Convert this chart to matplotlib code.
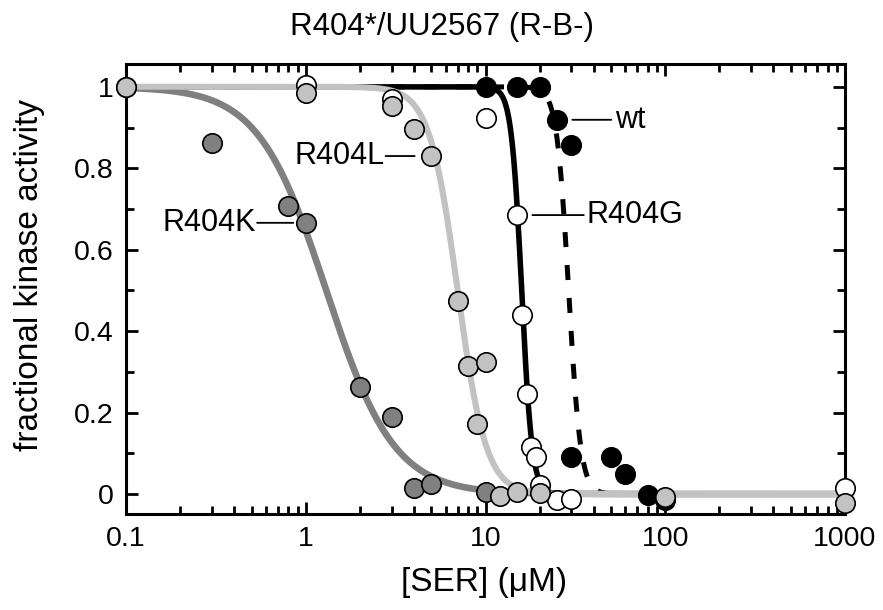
import numpy as np
import matplotlib
matplotlib.use("Agg")
import matplotlib.pyplot as plt
from matplotlib.ticker import FixedLocator, FixedFormatter, LogLocator, NullFormatter

plt.rcParams['font.family'] = ['Liberation Sans', 'DejaVu Sans']

# ---- data: [SER] (uM) vs fractional kinase activity ----
k_ser = [0.1, 0.3, 0.8, 1.0, 2.0, 3.0, 4.0, 5.0, 10.0]
k_act = [1.0, 0.862, 0.708, 0.666, 0.263, 0.189, 0.015, 0.025, 0.005]

l_ser = [0.1, 1.0, 3.0, 4.0, 5.0, 7.0, 8.0, 9.0, 10.0, 12.0, 15.0, 20.0, 100.0, 1000.0]
l_act = [1.0, 0.985, 0.953, 0.897, 0.830, 0.474, 0.314, 0.172, 0.324, -0.005, 0.005, 0.002, -0.007, -0.022]

g_ser = [1.0, 3.0, 10.0, 15.0, 16.0, 17.0, 18.0, 19.0, 20.0, 25.0, 30.0, 1000.0]
g_act = [1.005, 0.970, 0.924, 0.685, 0.440, 0.246, 0.115, 0.091, 0.022, -0.015, -0.012, 0.015]

wt_ser = [10.0, 15.0, 20.0, 25.0, 30.0, 30.0, 50.0, 60.0, 80.0, 100.0]
wt_act = [1.0, 1.0, 1.0, 0.919, 0.857, 0.091, 0.091, 0.049, -0.002, -0.015]

# fitted dose-response curves (EC50 in uM, Hill coefficient)
k_fit = (1.3, 2.3)
l_fit = (7.0, 5.5)
g_fit = (15.9, 15.0)
wt_fit = (29.0, 13.0)

xticks = [0.1, 1, 10, 100, 1000]
xtick_labels = ['0.1', '1', '10', '100', '1000']
yticks = [0, 0.2, 0.4, 0.6, 0.8, 1.0]
ytick_labels = ['0', '0.2', '0.4', '0.6', '0.8', '1']

dark = '#808080'
light = '#c2c2c2'


def hill(x, ec50, n):
    return 1.0 / (1.0 + (x / ec50) ** n)


xs = np.logspace(-1, 3, 600)

fig = plt.figure(figsize=(8.83, 6.10), dpi=100)
ax = fig.add_axes([126 / 883, 96 / 610, 719 / 883, 450 / 610])

# curves
ax.plot(xs, hill(xs, *wt_fit), color='black', lw=3.6, dashes=(3, 3.6),
        dash_capstyle='butt', zorder=2)
ax.plot(xs, hill(xs, *k_fit), color=dark, lw=4.8, zorder=3)
ax.plot(xs, hill(xs, *g_fit), color='black', lw=4.0, zorder=4)
ax.plot(xs, hill(xs, *l_fit), color=light, lw=4.4, zorder=5)

# points
mk = dict(marker='o', ls='none', ms=14, mec='black', mew=1.2, clip_on=False)
ax.plot(wt_ser, wt_act, mfc='black', zorder=6, **mk)
ax.plot(g_ser, g_act, mfc='white', zorder=7, **mk)
ax.plot(k_ser, k_act, mfc=dark, zorder=8, **mk)
ax.plot(l_ser, l_act, mfc=light, zorder=9, **mk)

# labels on the curves
lab = dict(textcoords='offset points', va='center', fontsize=22, zorder=10)
ax.annotate('R404L', xy=(l_ser[4], l_act[4]), xytext=(-34, 0), ha='right',
            arrowprops=dict(arrowstyle='-', lw=1.3, relpos=(1, 0.5), patchA=None,
                            shrinkA=1, shrinkB=12), **lab)
ax.annotate('R404K', xy=(k_ser[3], k_act[3]), xytext=(-36, 0), ha='right',
            arrowprops=dict(arrowstyle='-', lw=1.3, relpos=(1, 0.5), patchA=None,
                            shrinkA=1, shrinkB=9), **lab)
ax.annotate('R404G', xy=(g_ser[3], g_act[3]), xytext=(50, 0), ha='left',
            arrowprops=dict(arrowstyle='-', lw=1.3, relpos=(0, 0.5), patchA=None,
                            shrinkA=2, shrinkB=11), **lab)
ax.annotate('wt', xy=(wt_ser[3], wt_act[3]), xytext=(42, 0), ha='left',
            arrowprops=dict(arrowstyle='-', lw=1.3, relpos=(0, 0.5), patchA=None,
                            shrinkA=3, shrinkB=11), **lab)

ax.set_xscale('log')
ax.set_xlim(0.1, 1000)
ax.set_ylim(-0.049, 1.056)

ax.xaxis.set_major_locator(FixedLocator(xticks))
ax.xaxis.set_major_formatter(FixedFormatter(xtick_labels))
ax.xaxis.set_minor_locator(LogLocator(base=10, subs=np.arange(2, 10)))
ax.xaxis.set_minor_formatter(NullFormatter())
ax.yaxis.set_major_locator(FixedLocator(yticks))
ax.yaxis.set_major_formatter(FixedFormatter(ytick_labels))
ax.yaxis.set_minor_locator(FixedLocator(np.arange(-0.0, 1.05, 0.1)))

ax.tick_params(which='both', direction='in', top=True, right=True, width=2,
               labelsize=20.5, pad=9)
ax.tick_params(which='major', length=8.5)
ax.tick_params(which='minor', length=6)
for s in ax.spines.values():
    s.set_linewidth(2.2)

ax.set_xlabel('[SER] (μM)', fontsize=24)
ax.xaxis.set_label_coords(0.4986, -0.118)
ax.set_ylabel('fractional kinase activity', fontsize=24)
ax.yaxis.set_label_coords(-0.113, 0.531)

fig.text(0.5, 0.956, 'R404*/UU2567 (R-B-)', ha='center', va='center', fontsize=22.5)

plt.savefig('out.png', dpi=100)
